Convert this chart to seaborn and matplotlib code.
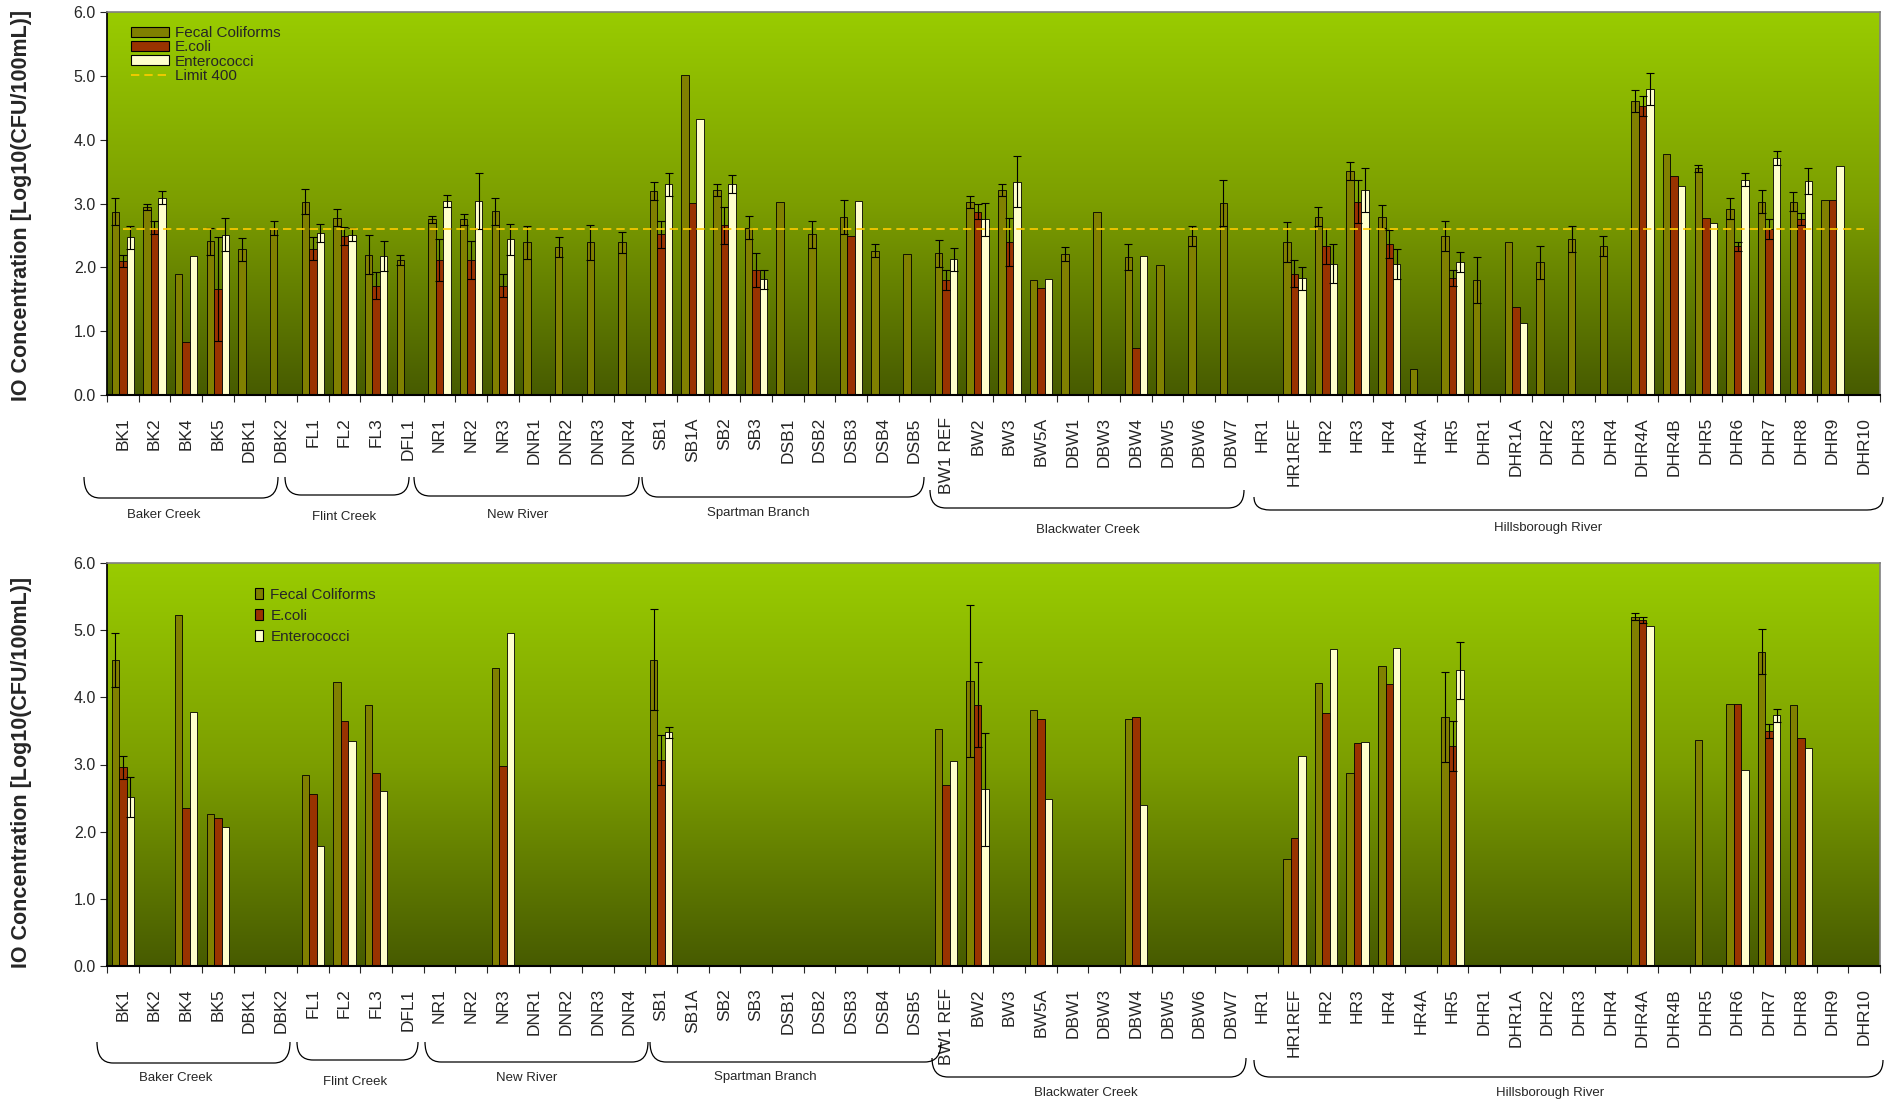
import matplotlib
matplotlib.use("Agg")
import matplotlib.pyplot as plt
import numpy as np
import pandas as pd
import seaborn as sns
from matplotlib.colors import LinearSegmentedColormap
from matplotlib.lines import Line2D
from matplotlib.patches import Patch, PathPatch
from matplotlib.path import Path

nan = np.nan

sites = ["BK1", "BK2", "BK4", "BK5", "DBK1", "DBK2",
         "FL1", "FL2", "FL3", "DFL1",
         "NR1", "NR2", "NR3", "DNR1", "DNR2", "DNR3", "DNR4",
         "SB1", "SB1A", "SB2", "SB3", "DSB1", "DSB2", "DSB3", "DSB4", "DSB5",
         "BW1 REF", "BW2", "BW3", "BW5A", "DBW1", "DBW3", "DBW4", "DBW5", "DBW6", "DBW7",
         "HR1", "HR1REF", "HR2", "HR3", "HR4", "HR4A", "HR5", "DHR1", "DHR1A", "DHR2",
         "DHR3", "DHR4", "DHR4A", "DHR4B", "DHR5", "DHR6", "DHR7", "DHR8", "DHR9", "DHR10"]

rivers = ["Baker Creek", "Flint Creek", "New River", "Spartman Branch",
          "Blackwater Creek", "Hillsborough River"]

indicators = ["Fecal Coliforms", "E.coli", "Enterococci"]
limit_400 = np.log10(400)

# ---- top panel (means and error) ----
top_fc = [2.87, 2.95, 1.90, 2.41, 2.28, 2.61,
          3.03, 2.78, 2.20, 2.12,
          2.75, 2.75, 2.88, 2.39, 2.32, 2.39, 2.39,
          3.19, 5.02, 3.21, 2.62, 3.03, 2.52, 2.79, 2.26, 2.21,
          2.22, 3.02, 3.21, 1.80, 2.21, 2.87, 2.16, 2.04, 2.49, 3.01,
          nan, 2.40, 2.79, 3.51, 2.79, 0.40, 2.49, 1.80, 2.39, 2.08,
          2.44, 2.33, 4.61, 3.78, 3.55, 2.92, 3.03, 3.03, 3.05, nan]
top_fc_err = [0.21, 0.05, nan, 0.21, 0.18, 0.11,
              0.20, 0.14, 0.30, 0.08,
              0.05, 0.08, 0.21, 0.26, 0.16, 0.28, 0.17,
              0.14, nan, 0.10, 0.18, nan, 0.21, 0.27, 0.10, nan,
              0.21, 0.09, 0.09, nan, 0.11, nan, 0.20, nan, 0.16, 0.36,
              nan, 0.31, 0.15, 0.14, 0.18, nan, 0.23, 0.36, nan, 0.26,
              0.20, 0.16, 0.17, nan, 0.05, 0.17, 0.18, 0.15, nan, nan]
top_ec = [2.10, 2.62, 0.83, 1.66, nan, nan,
          2.29, 2.49, 1.71, nan,
          2.11, 2.11, 1.71, nan, nan, nan, nan,
          2.52, 3.01, 2.66, 1.96, nan, nan, 2.49, nan, nan,
          1.80, 2.87, 2.40, 1.68, nan, nan, 0.74, nan, nan, nan,
          nan, 1.90, 2.33, 3.03, 2.37, nan, 1.83, nan, 1.38, nan,
          nan, nan, 4.53, 3.43, 2.78, 2.33, 2.60, 2.76, 3.06, nan]
top_ec_err = [0.10, 0.10, nan, 0.82, nan, nan,
              0.18, 0.14, 0.21, nan,
              0.33, 0.30, 0.18, nan, nan, nan, nan,
              0.21, nan, 0.29, 0.27, nan, nan, nan, nan, nan,
              0.16, 0.12, 0.38, nan, nan, nan, nan, nan, nan, nan,
              nan, 0.21, 0.28, 0.34, 0.22, nan, 0.13, nan, nan, nan,
              nan, nan, 0.16, nan, nan, 0.07, 0.15, 0.09, nan, nan]
top_ent = [2.47, 3.09, 2.18, 2.51, nan, nan,
           2.54, 2.51, 2.18, nan,
           3.04, 3.04, 2.44, nan, nan, nan, nan,
           3.30, 4.32, 3.30, 1.81, nan, nan, 3.04, nan, nan,
           2.13, 2.75, 3.34, 1.81, nan, nan, 2.18, nan, nan, nan,
           nan, 1.83, 2.06, 3.21, 2.05, nan, 2.08, nan, 1.13, nan,
           nan, nan, 4.80, 3.27, 2.70, 3.37, 3.71, 3.35, 3.59, nan]
top_ent_err = [0.18, 0.10, nan, 0.26, nan, nan,
               0.14, 0.10, 0.23, nan,
               0.09, 0.44, 0.24, nan, nan, nan, nan,
               0.18, nan, 0.14, 0.15, nan, nan, nan, nan, nan,
               0.18, 0.26, 0.40, nan, nan, nan, nan, nan, nan, nan,
               nan, 0.18, 0.31, 0.35, 0.24, nan, 0.16, nan, nan, nan,
               nan, nan, 0.25, nan, nan, 0.10, 0.11, 0.20, nan, nan]

# ---- bottom panel (means and error) ----
bot_fc = [4.56, nan, 5.23, 2.26, nan, nan,
          2.84, 4.23, 3.89, nan,
          nan, nan, 4.44, nan, nan, nan, nan,
          4.56, nan, nan, nan, nan, nan, nan, nan, nan,
          3.53, 4.24, nan, 3.81, nan, nan, 3.68, nan, nan, nan,
          nan, 1.60, 4.22, 2.87, 4.47, nan, 3.70, nan, nan, nan,
          nan, nan, 5.20, nan, 3.37, 3.90, 4.68, 3.89, nan, nan]
bot_fc_err = [0.40, nan, nan, nan, nan, nan,
              nan, nan, nan, nan,
              nan, nan, nan, nan, nan, nan, nan,
              0.75, nan, nan, nan, nan, nan, nan, nan, nan,
              nan, 1.13, nan, nan, nan, nan, nan, nan, nan, nan,
              nan, nan, nan, nan, nan, nan, 0.67, nan, nan, nan,
              nan, nan, 0.05, nan, nan, nan, 0.34, nan, nan, nan]
bot_ec = [2.96, nan, 2.35, 2.21, nan, nan,
          2.56, 3.65, 2.87, nan,
          nan, nan, 2.98, nan, nan, nan, nan,
          3.07, nan, nan, nan, nan, nan, nan, nan, nan,
          2.70, 3.89, nan, 3.68, nan, nan, 3.70, nan, nan, nan,
          nan, 1.91, 3.76, 3.32, 4.20, nan, 3.28, nan, nan, nan,
          nan, nan, 5.15, nan, nan, 3.90, 3.50, 3.39, nan, nan]
bot_ec_err = [0.17, nan, nan, nan, nan, nan,
              nan, nan, nan, nan,
              nan, nan, nan, nan, nan, nan, nan,
              0.37, nan, nan, nan, nan, nan, nan, nan, nan,
              nan, 0.63, nan, nan, nan, nan, nan, nan, nan, nan,
              nan, nan, nan, nan, nan, nan, 0.37, nan, nan, nan,
              nan, nan, 0.05, nan, nan, nan, 0.11, nan, nan, nan]
bot_ent = [2.52, nan, 3.78, 2.07, nan, nan,
           1.78, 3.35, 2.61, nan,
           nan, nan, 4.96, nan, nan, nan, nan,
           3.48, nan, nan, nan, nan, nan, nan, nan, nan,
           3.05, 2.63, nan, 2.48, nan, nan, 2.40, nan, nan, nan,
           nan, 3.12, 4.72, 3.33, 4.74, nan, 4.40, nan, nan, nan,
           nan, nan, 5.06, nan, nan, 2.92, 3.73, 3.24, nan, nan]
bot_ent_err = [0.30, nan, nan, nan, nan, nan,
               nan, nan, nan, nan,
               nan, nan, nan, nan, nan, nan, nan,
               0.08, nan, nan, nan, nan, nan, nan, nan, nan,
               nan, 0.84, nan, nan, nan, nan, nan, nan, nan, nan,
               nan, nan, nan, nan, nan, nan, 0.42, nan, nan, nan,
               nan, nan, nan, nan, nan, nan, 0.09, nan, nan, nan]

colors = ["#808000", "#993300", "#FFFFCC"]

W, H = 1891, 1104
sns.set_theme(style="ticks")
plt.rcParams["font.family"] = ["Liberation Sans", "DejaVu Sans"]

fig = plt.figure(figsize=(W / 100, H / 100), dpi=100)
ax_top = fig.add_axes([107 / W, 1 - 395 / H, (1880 - 107) / W, (395 - 12) / H])
ax_bot = fig.add_axes([107 / W, 1 - 966 / H, (1880 - 107) / W, (966 - 563) / H])

green = LinearSegmentedColormap.from_list("bg", ["#99CC00", "#7C9E00", "#475B00"])


def make_frame(fc, fc_err, ec, ec_err, ent, ent_err):
    rows = []
    for name, vals, errs in zip(indicators, [fc, ec, ent], [fc_err, ec_err, ent_err]):
        for s, v, e in zip(sites, vals, errs):
            rows.append({"site": s, "indicator": name, "value": v, "err": e})
    return pd.DataFrame(rows)


def draw_panel(ax, df):
    plot_df = df.fillna({"value": 0})
    ax.imshow(np.linspace(0, 1, 256).reshape(-1, 1), cmap=green, aspect="auto",
              extent=[-0.5, len(sites) - 0.5, 0, 6], zorder=0)
    sns.barplot(data=plot_df, x="site", y="value", hue="indicator", order=sites,
                hue_order=indicators, palette=colors, saturation=1, width=0.71,
                edgecolor="black", linewidth=0.6, errorbar=None, legend=False,
                ax=ax, zorder=2)
    for cont, name in zip(ax.containers, indicators):
        errs = df[df["indicator"] == name]["err"].values
        for bar, e in zip(cont, errs):
            if np.isnan(e):
                continue
            x = bar.get_x() + bar.get_width() / 2
            ax.errorbar(x, bar.get_height(), yerr=e, fmt="none", ecolor="black",
                        elinewidth=0.8, capsize=3, capthick=0.8, zorder=3)
    ax.set_xlim(-0.5, len(sites) - 0.5)
    ax.set_ylim(0, 6)
    ax.set_yticks(np.arange(0, 7, 1))
    ax.set_yticklabels([f"{v:.1f}" for v in range(7)], fontsize=11.5)
    ax.set_xticks(range(len(sites)))
    ax.set_xticklabels(sites, rotation=90, fontsize=12.5)
    ax.set_xticks(np.arange(-0.5, len(sites)), minor=True)
    ax.tick_params(axis="x", which="major", length=0, pad=16)
    ax.tick_params(axis="x", which="minor", length=5, width=0.8, direction="out")
    ax.tick_params(axis="y", length=5, width=0.8, direction="out", pad=3)
    ax.set_xlabel("")
    ax.set_ylabel("")
    for side in ["top", "right"]:
        ax.spines[side].set_visible(True)
        ax.spines[side].set_color("#808080")
        ax.spines[side].set_linewidth(1.2)
    ax.spines["left"].set_color("black")
    ax.spines["bottom"].set_color("black")
    ax.spines["bottom"].set_linewidth(1.5)


top_df = make_frame(top_fc, top_fc_err, top_ec, top_ec_err, top_ent, top_ent_err)
bot_df = make_frame(bot_fc, bot_fc_err, bot_ec, bot_ec_err, bot_ent, bot_ent_err)
draw_panel(ax_top, top_df)
draw_panel(ax_bot, bot_df)

# limit line
ax_top.plot(range(len(sites)), [limit_400] * len(sites), color="#FFCC00",
            lw=1.2, ls=(0, (5, 3)), zorder=4)

# legends
h_top = [Patch(facecolor=c, edgecolor="black", linewidth=0.8) for c in colors]
h_top.append(Line2D([], [], color="#FFCC00", lw=1.2, ls=(0, (5, 3))))
fig.legend(h_top, indicators + ["Limit 400"], loc="upper left",
           bbox_to_anchor=(131 / W, 1 - 26 / H), frameon=False, fontsize=11,
           handlelength=2.5, handleheight=0.65, labelspacing=0.02,
           handletextpad=0.35, borderpad=0, borderaxespad=0)
h_bot = [Patch(facecolor=c, edgecolor="black", linewidth=0.8) for c in colors]
fig.legend(h_bot, indicators, loc="upper left",
           bbox_to_anchor=(255 / W, 1 - 588 / H), frameon=False, fontsize=11,
           handlelength=0.55, handleheight=0.7, labelspacing=0.45,
           handletextpad=0.45, borderpad=0, borderaxespad=0)

# y labels
for yc in [205, 772]:
    fig.text(22 / W, 1 - yc / H, "IO Concentration [Log10(CFU/100mL)]",
             rotation=90, ha="center", va="center", fontsize=15.5,
             fontweight="bold")


# river group braces
def brace(x0, x1, yt, yb, r=16):
    pts = [(x0, yt), (x0, yb), (x0 + r, yb), (x1 - r, yb), (x1, yb), (x1, yt)]
    pts = [(x / W, 1 - y / H) for x, y in pts]
    codes = [Path.MOVETO, Path.CURVE3, Path.CURVE3, Path.LINETO,
             Path.CURVE3, Path.CURVE3]
    fig.add_artist(PathPatch(Path(pts, codes), facecolor="none",
                             edgecolor="black", lw=0.9,
                             transform=fig.transFigure))


top_braces = [(84, 278, 477, 498, 164, 515), (285, 409, 477, 495, 344, 517),
              (414, 639, 477, 496, 518, 515), (642, 924, 477, 497, 758, 513),
              (930, 1244, 490, 508, 1088, 530), (1254, 1883, 497, 510, 1548, 528)]
bot_braces = [(97, 290, 1042, 1063, 176, 1078), (297, 418, 1042, 1060, 355, 1082),
              (425, 648, 1042, 1062, 527, 1078), (650, 941, 1042, 1062, 765, 1077),
              (932, 1246, 1058, 1077, 1086, 1093), (1254, 1883, 1060, 1077, 1550, 1093)]
for spec in [top_braces, bot_braces]:
    for river, (x0, x1, yt, yb, lx, ly) in zip(rivers, spec):
        brace(x0, x1, yt, yb)
        fig.text(lx / W, 1 - ly / H, river, ha="center", va="center",
                 fontsize=9.5)

fig.savefig("out.png", dpi=100, facecolor="white")
